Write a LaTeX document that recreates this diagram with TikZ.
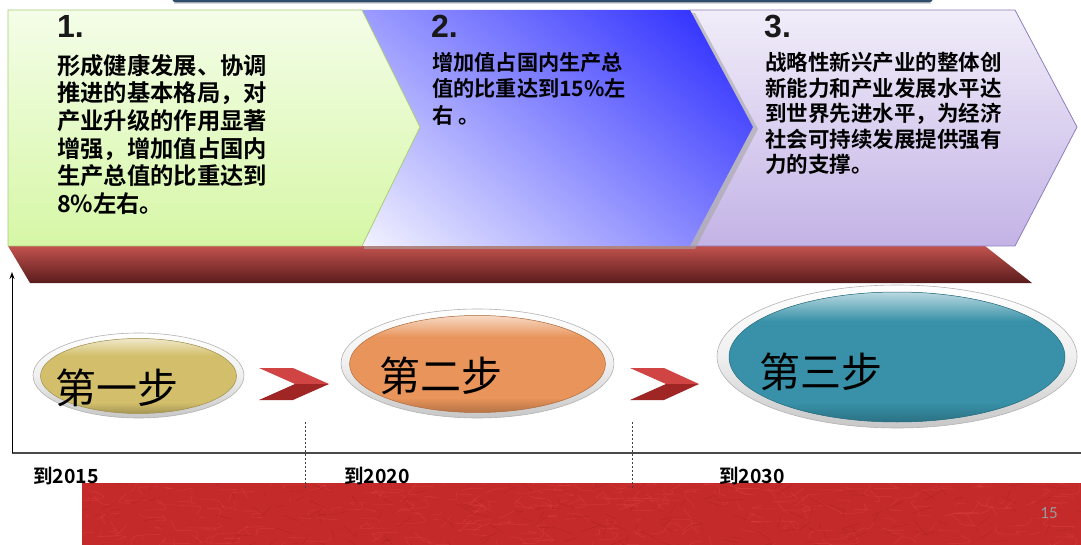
\documentclass[tikz,border=0pt]{standalone}
\usepackage{fontspec}
\setmainfont{Liberation Sans}
\newfontfamily\cjk{Noto Sans CJK SC}
\newfontfamily\cjkb{Noto Sans CJK SC Bold}
\newfontfamily\numf{Liberation Sans}
\newfontfamily\pagef{Carlito}
\usetikzlibrary{shapes.geometric,arrows.meta}
\definecolor{grnT}{HTML}{F4FDE8}
\definecolor{grnB}{HTML}{D6F7A6}
\definecolor{grnE}{HTML}{A9CB7A}
\definecolor{bluS}{HTML}{2B2BFF}
\definecolor{lavT}{HTML}{F1EDF9}
\definecolor{lavB}{HTML}{C3B3E6}
\definecolor{lavE}{HTML}{8E7EBE}
\definecolor{redT}{HTML}{C2524E}
\definecolor{redB}{HTML}{5A1C1C}
\definecolor{texred}{HTML}{C42A2A}
\definecolor{texlite}{HTML}{E04444}
\definecolor{texdark}{HTML}{A01E1E}
\definecolor{topbar}{HTML}{2F4D6D}
\definecolor{khaki}{HTML}{D3BF6B}
\definecolor{orng}{HTML}{E8945A}
\definecolor{teal}{HTML}{3891A8}
\definecolor{arrL}{HTML}{D04444}
\definecolor{arrD}{HTML}{A02626}
\definecolor{axisc}{HTML}{4A4A4A}
\tikzset{
  boxtxt/.style={anchor=north west, inner sep=0pt, align=left, text=black},
  numtxt/.style={anchor=base west, inner sep=0pt, font=\numf\bfseries\fontsize{32}{32}\selectfont, text=black!90},
  ring/.style={ellipse, inner sep=0pt, draw=black!30, line width=0.6pt, top color=white, bottom color=black!22, middle color=black!6},
  steplbl/.style={inner sep=0pt, font=\cjk\fontsize{41}{41}\selectfont, text=black},
  yearlbl/.style={inner sep=0pt, font=\cjkb\fontsize{19.5}{20}\selectfont, text=black},
}
% body of a step ellipse: centre x, centre y, x radius, y radius, colour
\newcommand\ellbody[5]{%
  \fill[#5] (#1,#2) ellipse [x radius=#3pt, y radius=#4pt];
  \begin{scope}
    \clip (#1,#2) ellipse [x radius=#3pt, y radius=#4pt];
    \shade[top color=#5!35!white, bottom color=#5] (#1-#3,#2-#4) rectangle (#1+#3,#2-0.55*#4);
    \shade[top color=#5, bottom color=#5!78!black] (#1-#3,#2+0.7*#4) rectangle (#1+#3,#2+#4);
  \end{scope}
  \draw[#5!75!black, line width=0.5pt] (#1,#2) ellipse [x radius=#3pt, y radius=#4pt];
}
\begin{document}
\begin{tikzpicture}[x=1pt,y=-1pt]
\useasboundingbox (0,0) rectangle (1081,545);
% top bar
\fill[black!15] (174,-10) rectangle (931,4.5);
\fill[topbar, rounded corners=4pt] (172,-10) rectangle (933,2.5);
% red platform
\shade[top color=redT, bottom color=redB] (8,246) -- (985,246) -- (1032,283) -- (30,283) -- cycle;
% chevron 3
\shade[top color=lavT, bottom color=lavB] (690,10) -- (1015,10) -- (1077,127) -- (1015,246) -- (690,246) -- (753,127) -- cycle;
\draw[lavE, line width=0.8] (690,10) -- (1015,10) -- (1077,127) -- (1015,246) -- (690,246);
% chevron 2 shadow
\fill[black!35, opacity=0.6] (364,13) -- (695,13) -- (758,129) -- (695,249) -- (364,249) -- cycle;
% chevron 2
\begin{scope}
\clip (360,10) -- (690,10) -- (753,127) -- (690,246) -- (360,246) -- (420,127) -- cycle;
\shade[transform canvas={rotate around={-40:(555,128)}}, top color=bluS, middle color=bluS!42!white, bottom color=white]
  (315,-70) rectangle (795,368);
\end{scope}
% chevron 1
\shade[top color=grnT, bottom color=grnB] (8,10) -- (362,10) -- (420,127) -- (362,246) -- (8,246) -- cycle;
\draw[grnE, line width=0.8] (8,246) -- (8,10) -- (362,10) -- (420,127) -- (362,246) -- (8,246);
% numbers
\node[numtxt] (n1) at (57,38) {1.};
\node[numtxt] (n2) at (431,38) {2.};
\node[numtxt] (n3) at (764,38) {3.};
% box texts
\node[boxtxt, font=\cjkb\fontsize{23.3}{27.6}\selectfont] (t1) at (57,54)
  {形成健康发展、协调\\推进的基本格局，对\\产业升级的作用显著\\增强，增加值占国内\\生产总值的比重达到\\8\%左右。};
\node[boxtxt, font=\cjkb\fontsize{21.2}{26.5}\selectfont] (t2) at (432,52)
  {增加值占国内生产总\\值的比重达到15\%左\\右 。};
\node[boxtxt, font=\cjkb\fontsize{21.5}{25.5}\selectfont] (t3) at (765,52)
  {战略性新兴产业的整体创\\新能力和产业发展水平达\\到世界先进水平，为经济\\社会可持续发展提供强有\\力的支撑。};
% axis
\coordinate (o) at (12,453);
\coordinate (ytop) at (12,272);
\coordinate (xend) at (1081,453);
\draw[axisc, line width=1.3] (o) -- (xend);
\draw[black, line width=1, -{Stealth[length=7pt,width=5pt]}] (o) -- (ytop);
% ellipses
\node[ring, minimum width=211pt, minimum height=85pt] (e1o) at (138.5,375.5) {};
\ellbody{138.5}{376}{98}{37.5}{khaki}
\node[ring, minimum width=273pt, minimum height=109pt] (e2o) at (477.5,363.5) {};
\ellbody{477.5}{364}{128}{48.5}{orng}
\node[ring, minimum width=360pt, minimum height=143pt] (e3o) at (897,356.5) {};
\ellbody{897}{357}{168}{65}{teal}
\node[steplbl] (l1) at (117,388) {第一步};
\node[steplbl] (l2) at (441,376) {第二步};
\node[steplbl] (l3) at (821,372) {第三步};
% red arrows
\fill[arrL] (259,368) -- (293,368) -- (329,384) -- (295,384) -- cycle;
\fill[arrD] (295,384) -- (329,384) -- (293,400) -- (259,400) -- cycle;
\fill[arrL] (630,368) -- (664,368) -- (699,384) -- (666,384) -- cycle;
\fill[arrD] (666,384) -- (699,384) -- (664,400) -- (630,400) -- cycle;
% textured red bar
\fill[texred] (82,483) rectangle (1081,545);
\begin{scope}
\clip (82,483) rectangle (1081,545);
\pgfmathsetseed{7}
\foreach \i in {1,...,320}{
  \pgfmathsetmacro\xa{82+rnd*1000}
  \pgfmathsetmacro\ya{480+rnd*68}
  \pgfmathsetmacro\dx{(rnd-0.5)*50}
  \pgfmathsetmacro\dy{(rnd-0.5)*24}
  \pgfmathsetmacro\cx{(rnd-0.5)*30}
  \draw[texlite, line width=0.5pt, opacity=0.5] (\xa,\ya) .. controls (\xa+\cx,\ya+\dy) .. (\xa+\dx,\ya+\dy);
}
\foreach \i in {1,...,200}{
  \pgfmathsetmacro\xa{82+rnd*1000}
  \pgfmathsetmacro\ya{480+rnd*68}
  \pgfmathsetmacro\dx{(rnd-0.5)*40}
  \pgfmathsetmacro\dy{(rnd-0.5)*20}
  \draw[texdark, line width=0.5pt, opacity=0.45] (\xa,\ya) -- ++(\dx,\dy);
}
\end{scope}
% dashed markers
\coordinate (d1a) at (305,422); \coordinate (d1b) at (305,489);
\coordinate (d2a) at (632,422); \coordinate (d2b) at (632,489);
\draw[black!75, line width=0.8, dash pattern=on 2pt off 2pt] (d1a) -- (d1b);
\draw[black!75, line width=0.8, dash pattern=on 2pt off 2pt] (d2a) -- (d2b);
% year labels
\node[yearlbl] (y1) at (66,476) {到2015};
\node[yearlbl] (y2) at (377,476) {到2020};
\node[yearlbl] (y3) at (752,476) {到2030};
% page number
\node[inner sep=0pt, font=\pagef\fontsize{17}{17}\selectfont, text=black!40] (pg) at (1049,513) {15};
\end{tikzpicture}
\end{document}
